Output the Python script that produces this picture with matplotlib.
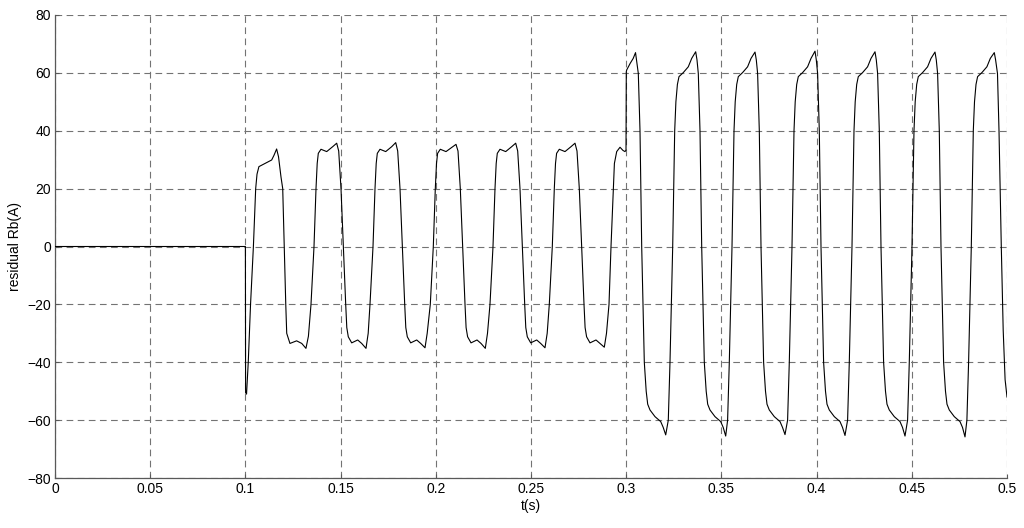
import numpy as np
import matplotlib
matplotlib.use("Agg")
from matplotlib import pyplot as plt

plt.rcParams['font.family'] = ['Liberation Sans', 'DejaVu Sans']

# (t [s], residual Rb [A])
pre_fault = [
    (0.0000, 0.0), (0.1000, 0.0),
]

# first stage, 0.1 s .. 0.3 s (about +-35 A)
stage1 = [
    (0.1001, -50.5), (0.1006, -51.0), (0.1015, -40.0), (0.1027, -20.0), (0.1042, 0.0),
    (0.1054, 20.0), (0.1061, 25.0), (0.1071, 27.6), (0.1103, 28.7), (0.1138, 29.9),
    (0.1150, 31.5), (0.1164, 33.7), (0.1174, 31.0), (0.1187, 24.0), (0.1196, 20.0),
    (0.1204, 0.0), (0.1212, -20.0), (0.1217, -30.0), (0.1234, -33.5), (0.1269, -32.6),
    (0.1296, -33.5), (0.1318, -35.2), (0.1331, -31.0),
    # cycle 2
    (0.13445, -20.0), (0.13603, 0.0), (0.13708, 20.0), (0.13771, 28.7), (0.13829, 32.2),
    (0.13970, 33.6), (0.14270, 32.8), (0.14585, 34.5), (0.14795, 35.7), (0.14900, 33.0),
    (0.15021, 20.0), (0.15142, 0.0), (0.15268, -20.0), (0.15325, -28.0), (0.15404, -31.2),
    (0.15583, -33.3), (0.15898, -32.3), (0.16108, -33.5), (0.16334, -35.2), (0.16449, -30.0),
    # cycle 3
    (0.16544, -20.0), (0.16702, 0.0), (0.16807, 20.0), (0.16870, 28.7), (0.16928, 32.2),
    (0.17069, 33.6), (0.17369, 32.8), (0.17684, 34.5), (0.17894, 35.9), (0.17999, 33.0),
    (0.18120, 20.0), (0.18241, 0.0), (0.18367, -20.0), (0.18424, -28.0), (0.18503, -31.2),
    (0.18682, -33.3), (0.18997, -32.3), (0.19207, -33.5), (0.19433, -35.0), (0.19548, -30.0),
    # cycle 4
    (0.19711, -20.0), (0.19869, 0.0), (0.19974, 20.0), (0.20037, 28.7), (0.20095, 32.2),
    (0.20236, 33.6), (0.20536, 32.8), (0.20851, 34.3), (0.21061, 35.3), (0.21166, 33.0),
    (0.21287, 20.0), (0.21408, 0.0), (0.21534, -20.0), (0.21591, -28.0), (0.21670, -31.2),
    (0.21849, -33.3), (0.22164, -32.3), (0.22374, -33.5), (0.22600, -35.2), (0.22715, -30.0),
    # cycle 5
    (0.22846, -20.0), (0.23004, 0.0), (0.23109, 20.0), (0.23172, 28.7), (0.23230, 32.2),
    (0.23371, 33.6), (0.23671, 32.8), (0.23986, 34.5), (0.24196, 35.7), (0.24301, 33.0),
    (0.24422, 20.0), (0.24543, 0.0), (0.24669, -20.0), (0.24726, -28.0), (0.24805, -31.2),
    (0.24984, -33.3), (0.25299, -32.3), (0.25509, -33.5), (0.25735, -35.0), (0.25850, -30.0),
    # cycle 6
    (0.25961, -20.0), (0.26119, 0.0), (0.26224, 20.0), (0.26287, 28.7), (0.26345, 32.2),
    (0.26486, 33.6), (0.26786, 32.8), (0.27101, 34.5), (0.27311, 35.7), (0.27416, 33.0),
    (0.27537, 20.0), (0.27658, 0.0), (0.27784, -20.0), (0.27841, -28.0), (0.27920, -31.2),
    (0.28099, -33.3), (0.28414, -32.3), (0.28624, -33.5), (0.28850, -34.8), (0.28965, -30.0),
    # partial cycle up to the step at 0.3 s
    (0.29097, -20.0), (0.29202, 0.0), (0.29322, 20.0), (0.29380, 28.7), (0.29501, 32.8),
    (0.29675, 34.3), (0.29830, 33.2), (0.29937, 32.8), (0.29990, 33.3),
]

# second stage, 0.3 s .. 0.5 s (about +-65 A)
stage2 = [
    (0.30005, 60.4), (0.30026, 61.0), (0.30210, 63.3), (0.30368, 65.0), (0.30490, 67.0),
    (0.30636, 59.8), (0.30725, 40.0), (0.30814, 0.0), (0.30951, -40.0), (0.31050, -50.0),
    (0.31129, -54.5), (0.31250, -56.5), (0.31513, -58.8), (0.31812, -60.5), (0.31943, -62.5),
    (0.32075, -65.1),
    # cycle 9
    (0.32211, -60.0), (0.32300, -40.0), (0.32442, 0.0), (0.32547, 40.0), (0.32610, 50.0),
    (0.32689, 56.0), (0.32773, 58.7), (0.32999, 60.1), (0.33261, 62.1), (0.33440, 65.0),
    (0.33650, 67.3), (0.33718, 64.5), (0.33787, 59.8), (0.33876, 40.0), (0.33965, 0.0),
    (0.34102, -40.0), (0.34201, -50.0), (0.34280, -54.5), (0.34401, -56.5), (0.34664, -58.8),
    (0.34963, -60.5), (0.35094, -62.5), (0.35226, -65.5),
    # cycle 10
    (0.35326, -60.0), (0.35415, -40.0), (0.35557, 0.0), (0.35662, 40.0), (0.35725, 50.0),
    (0.35804, 56.0), (0.35888, 58.7), (0.36114, 60.1), (0.36376, 62.1), (0.36555, 65.0),
    (0.36765, 67.2), (0.36833, 64.5), (0.36902, 59.8), (0.36991, 40.0), (0.37080, 0.0),
    (0.37217, -40.0), (0.37316, -50.0), (0.37395, -54.5), (0.37516, -56.5), (0.37779, -58.8),
    (0.38078, -60.5), (0.38209, -62.5), (0.38341, -65.0),
    # cycle 11
    (0.38477, -60.0), (0.38566, -40.0), (0.38708, 0.0), (0.38813, 40.0), (0.38876, 50.0),
    (0.38955, 56.0), (0.39039, 58.7), (0.39265, 60.1), (0.39527, 62.1), (0.39706, 65.0),
    (0.39916, 67.5), (0.39984, 64.5), (0.40053, 59.8), (0.40142, 40.0), (0.40231, 0.0),
    (0.40368, -40.0), (0.40467, -50.0), (0.40546, -54.5), (0.40667, -56.5), (0.40930, -58.8),
    (0.41229, -60.5), (0.41360, -62.5), (0.41492, -65.3),
    # cycle 12
    (0.41628, -60.0), (0.41717, -40.0), (0.41859, 0.0), (0.41964, 40.0), (0.42027, 50.0),
    (0.42106, 56.0), (0.42190, 58.7), (0.42416, 60.1), (0.42678, 62.1), (0.42857, 65.0),
    (0.43067, 67.3), (0.43135, 64.5), (0.43204, 59.8), (0.43293, 40.0), (0.43382, 0.0),
    (0.43519, -40.0), (0.43618, -50.0), (0.43697, -54.5), (0.43818, -56.5), (0.44081, -58.8),
    (0.44380, -60.5), (0.44511, -62.5), (0.44643, -65.5),
    # cycle 13
    (0.44779, -60.0), (0.44868, -40.0), (0.45010, 0.0), (0.45115, 40.0), (0.45178, 50.0),
    (0.45257, 56.0), (0.45341, 58.7), (0.45567, 60.1), (0.45829, 62.1), (0.46008, 65.0),
    (0.46218, 67.2), (0.46286, 64.5), (0.46355, 59.8), (0.46444, 40.0), (0.46533, 0.0),
    (0.46670, -40.0), (0.46769, -50.0), (0.46848, -54.5), (0.46969, -56.5), (0.47232, -58.8),
    (0.47531, -60.5), (0.47662, -62.5), (0.47794, -65.8),
    # last cycle
    (0.47894, -60.0), (0.47983, -40.0), (0.48125, 0.0), (0.48230, 40.0), (0.48293, 50.0),
    (0.48372, 56.0), (0.48456, 58.7), (0.48682, 60.1), (0.48944, 62.1), (0.49123, 65.0),
    (0.49333, 67.0), (0.49401, 64.5), (0.49500, 59.8), (0.49580, 40.0), (0.49700, 0.0),
    (0.49800, -28.9), (0.49900, -46.0), (0.50000, -52.0),
]

x_ticks = [0, 0.05, 0.1, 0.15, 0.2, 0.25, 0.3, 0.35, 0.4, 0.45, 0.5]
x_tick_labels = ['0', '0.05', '0.1', '0.15', '0.2', '0.25', '0.3', '0.35', '0.4', '0.45', '0.5']
y_ticks = [-80, -60, -40, -20, 0, 20, 40, 60, 80]

trace = np.array(pre_fault + stage1 + stage2)

fig = plt.figure(figsize=(10.24, 5.28), dpi=100)
ax = fig.add_axes([55 / 1024, 1 - 478 / 528, 952 / 1024, 463 / 528])

ax.plot(trace[:, 0], trace[:, 1], '-', color='k', lw=0.8, zorder=3)

ax.set_xlim(0, 0.5)
ax.set_ylim(-80, 80)
ax.set_xticks(x_ticks)
ax.set_xticklabels(x_tick_labels)
ax.set_yticks(y_ticks)

# matlab-ish grid, box off
ax.grid(True, color='0.45', linestyle=(0, (6, 4)), linewidth=0.8)
ax.set_axisbelow(True)
for side in ['top', 'right']:
    ax.spines[side].set_visible(False)
for side in ['left', 'bottom']:
    ax.spines[side].set_color('0.35')
    ax.spines[side].set_linewidth(0.9)
ax.tick_params(direction='in', length=3, color='0.35', labelsize=10, pad=3)

ax.set_xlabel('t(s)', fontsize=10, labelpad=2)
ax.set_ylabel('residual Rb(A)', fontsize=10, labelpad=4)

fig.savefig('out.png', dpi=100)
